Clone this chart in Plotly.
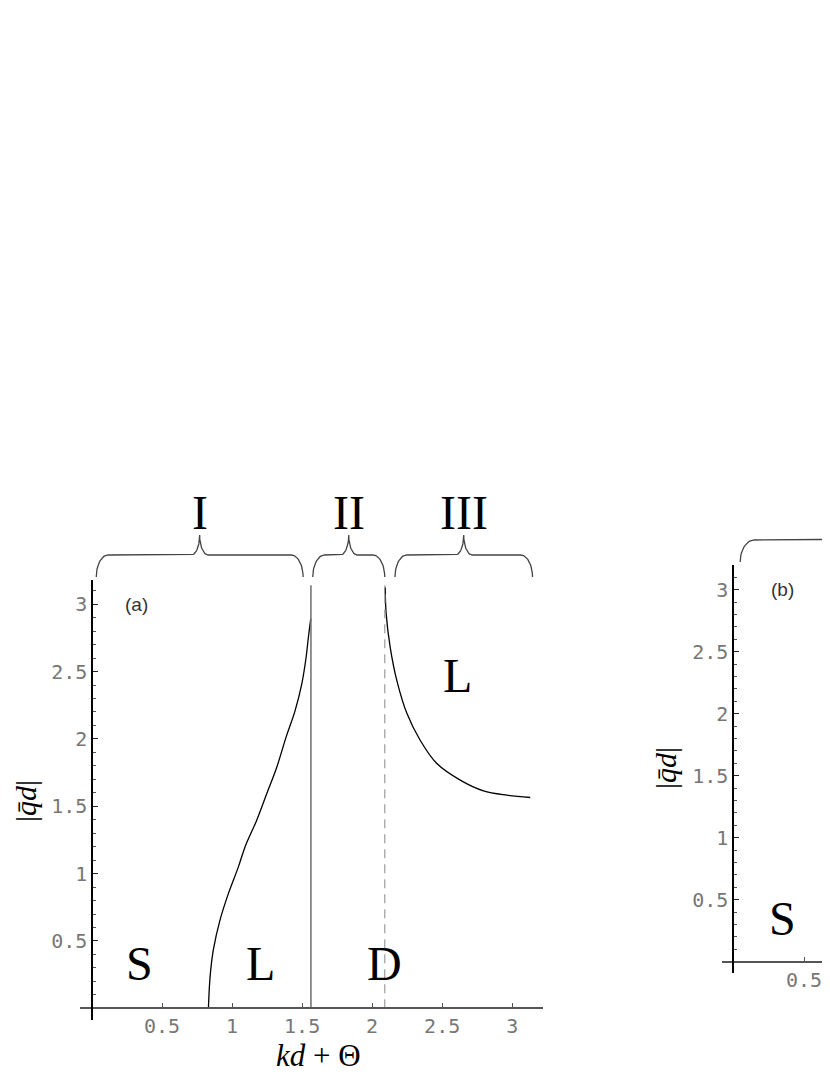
import numpy as np
import plotly.graph_objects as go

# boundary S|L in region I
left_x = [0.831, 0.843, 0.866, 0.914, 0.974, 1.045, 1.093, 1.176, 1.248,
          1.319, 1.386, 1.45, 1.498, 1.529, 1.545, 1.562]
left_y = [0.0, 0.235, 0.433, 0.656, 0.853, 1.05, 1.20, 1.397, 1.595,
          1.79, 2.015, 2.21, 2.41, 2.61, 2.757, 2.893]

# boundary D|L in region III
right_x = [2.093, 2.1, 2.129, 2.176, 2.248, 2.343, 2.462, 2.629, 2.795, 2.962, 3.129]
right_y = [3.128, 2.93, 2.68, 2.435, 2.19, 1.99, 1.817, 1.694, 1.614, 1.582, 1.565]

solid_x = 1.563
dashed_x = 2.09
line_top = 3.14

tick_vals = [0.5, 1, 1.5, 2, 2.5, 3]
tick_text = ["0.5", "1", "1.5", "2", "2.5", "3"]

regions = ["I", "II", "III"]
region_lo = [0.03, 1.576, 2.163]
region_hi = [1.507, 2.09, 3.145]

# panel (b), only its left edge is in the picture
region_b_lo = 0.05
region_b_hi = 1.5

# page has an 8px body margin
OFF = 8
W, H = 830 - OFF, 1075 - OFF


def px(x):
    return (x - OFF) / W


def py(y):
    return (H - (y - OFF)) / H


def brace(lo, hi, c, w, y0=0.06, y1=0.5, y2=0.9):
    mid = (lo + hi) / 2
    t = np.linspace(0, np.pi / 2, 20)
    xs, ys = [], []
    xs += list(lo + c - c * np.cos(t))
    ys += list(y0 + (y1 - y0) * np.sin(t))
    xs += list(mid - w + w * np.sin(t))
    ys += list(y1 + (y2 - y1) * (1 - np.cos(t)))
    xs += list(mid + w - w * np.cos(t))
    ys += list(y2 - (y2 - y1) * np.sin(t))
    xs += list(hi - c + c * np.sin(t))
    ys += list(y1 - (y1 - y0) * (1 - np.cos(t)))
    return xs, ys


fig = go.Figure()

blk = dict(color="black", width=1.3)

fig.add_trace(go.Scatter(x=left_x, y=left_y, mode="lines", line=blk,
                         xaxis="x", yaxis="y", line_shape="spline"))
fig.add_trace(go.Scatter(x=right_x, y=right_y, mode="lines", line=blk,
                         xaxis="x", yaxis="y", line_shape="spline"))
fig.add_trace(go.Scatter(x=[solid_x, solid_x], y=[0, line_top], mode="lines",
                         line=dict(color="#777777", width=1.6),
                         xaxis="x", yaxis="y"))
fig.add_trace(go.Scatter(x=[dashed_x, dashed_x], y=[0, line_top], mode="lines",
                         line=dict(color="#aaaaaa", width=1.4, dash="9px,6px"),
                         xaxis="x", yaxis="y"))

for lo, hi in zip(region_lo, region_hi):
    bx, by = brace(lo, hi, 0.085, 0.06)
    fig.add_trace(go.Scatter(x=bx, y=by, mode="lines",
                             line=dict(color="#444444", width=1.3),
                             xaxis="x3", yaxis="y3"))

bx, by = brace(region_b_lo, region_b_hi, 0.1, 0.06)
fig.add_trace(go.Scatter(x=bx, y=by, mode="lines",
                         line=dict(color="#444444", width=1.3),
                         xaxis="x4", yaxis="y4"))

# empty trace so the right panel axes get drawn
fig.add_trace(go.Scatter(x=[None], y=[None], xaxis="x2", yaxis="y2"))

tickfont = dict(family="DejaVu Sans Mono", size=20, color="#777777")
serif = "Liberation Serif"

common_x = dict(tickvals=tick_vals, ticktext=tick_text, ticks="inside",
                ticklen=4, tickcolor="#555555", tickfont=tickfont,
                showline=True, linecolor="#555555", linewidth=2,
                showgrid=False, zeroline=False, anchor="free")
common_y = dict(tickvals=tick_vals, ticktext=tick_text, ticks="inside",
                ticklen=5, tickcolor="#222222", tickfont=tickfont,
                showline=True, linecolor="black", linewidth=1.5,
                minor=dict(dtick=0.1, ticks="inside", ticklen=3, tickcolor="#555555"),
                showgrid=False, zeroline=False, anchor="free")

fig.update_layout(
    width=W, height=H,
    margin=dict(l=0, r=0, t=0, b=0),
    paper_bgcolor="white", plot_bgcolor="white",
    showlegend=False,
    xaxis=dict(domain=[px(80), px(543)], range=[-0.086, 3.22],
               position=py(1008.3), **common_x),
    yaxis=dict(domain=[py(1020), py(575)], range=[-0.087, 3.217],
               position=px(92), **common_y),
    xaxis2=dict(domain=[px(721.7), 1], range=[-0.08, 0.683],
                position=py(961.7), **common_x),
    yaxis2=dict(domain=[py(973), py(565)], range=[-0.091, 3.199],
                position=px(733), **common_y),
    xaxis3=dict(domain=[px(80), px(543)], range=[-0.086, 3.22], visible=False,
                anchor="y3"),
    yaxis3=dict(domain=[py(580), py(530)], range=[0, 1], visible=False,
                anchor="x3"),
    xaxis4=dict(domain=[px(721.7), 1], range=[-0.08, 0.683], visible=False,
                anchor="y4"),
    yaxis4=dict(domain=[py(565), py(515)], range=[0, 1], visible=False,
                anchor="x4"),
)

big = dict(family=serif, size=48, color="black")
ann = []
for name, lo, hi in zip(regions, region_lo, region_hi):
    ann.append(dict(text=name, x=(lo + hi) / 2, y=py(512), xref="x", yref="paper",
                    showarrow=False, font=big, xanchor="center", yanchor="middle"))

for t, x, y in [("S", 0.34, 0.33), ("L", 1.2, 0.33), ("D", 2.09, 0.33), ("L", 2.61, 2.47)]:
    ann.append(dict(text=t, x=x, y=y, xref="x", yref="y", showarrow=False, font=big,
                    xanchor="center", yanchor="middle"))
ann.append(dict(text="S", x=0.345, y=0.35, xref="x2", yref="y2", showarrow=False,
                font=big, xanchor="center", yanchor="middle"))

lab = dict(family="Liberation Sans", size=19, color="#333333")
ann.append(dict(text="(a)", x=0.32, y=3.0, xref="x", yref="y", showarrow=False,
                font=lab, xanchor="center", yanchor="middle"))
ann.append(dict(text="(b)", x=0.345, y=3.0, xref="x2", yref="y2", showarrow=False,
                font=lab, xanchor="center", yanchor="middle"))

title_font = dict(family=serif, size=30, color="black")
qd = "|<i>q\u0304d</i>|"
ann.append(dict(text=qd, x=px(25), y=py(801), xref="paper", yref="paper",
                textangle=-90, showarrow=False, font=title_font,
                xanchor="center", yanchor="middle"))
ann.append(dict(text=qd, x=px(665), y=py(768), xref="paper", yref="paper",
                textangle=-90, showarrow=False, font=title_font,
                xanchor="center", yanchor="middle"))
ann.append(dict(text="<i>kd</i> + \u0398", x=px(318), y=py(1055), xref="paper",
                yref="paper", showarrow=False, xanchor="center", yanchor="middle",
                font=dict(family=serif, size=31, color="black")))

fig.update_layout(annotations=ann)

fig.write_html("out.html")
